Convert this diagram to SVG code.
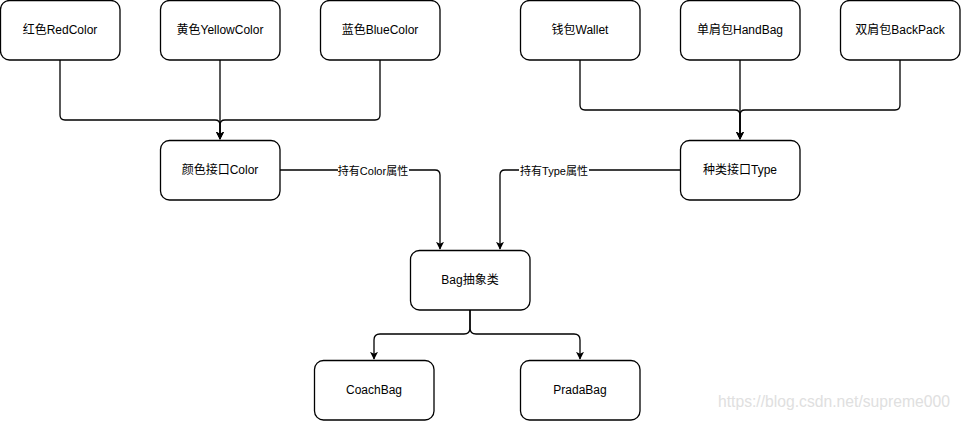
<svg xmlns="http://www.w3.org/2000/svg" width="961" height="421" viewBox="0 0 961 421">
<style>
.n rect{fill:#fff;stroke:#000;stroke-width:1.3}
.n text{font-family:"Liberation Sans","Noto Sans CJK SC",sans-serif;font-size:12px;fill:#000;text-anchor:middle;dominant-baseline:central}
.e path{fill:none;stroke:#000;stroke-width:1.3}
.lbl{font-family:"Liberation Sans","Noto Sans CJK SC",sans-serif;font-size:11px;fill:#000;text-anchor:middle;dominant-baseline:central}
.wm{font-family:"Liberation Sans",sans-serif;font-size:15.7px;fill:#e0e0e0}
</style>
<defs>
<marker id="a" viewBox="0 0 10 10" refX="9" refY="5" markerWidth="8" markerHeight="8" markerUnits="userSpaceOnUse" orient="auto">
<path d="M0,0 L10,5 L0,10 L2.5,5 Z" fill="#000"/>
</marker>
</defs>
<rect width="961" height="421" fill="#fff"/>
<g class="e" id="edges">
<path d="M60,60 V115 Q60,120 65,120 H215 Q220,120 220,125 V139" marker-end="url(#a)"/>
<path d="M220,60 V139" marker-end="url(#a)"/>
<path d="M380,60 V115 Q380,120 375,120 H225 Q220,120 220,125 V139" marker-end="url(#a)"/>
<path d="M580,60 V105 Q580,110 585,110 H735 Q740,110 740,115 V139" marker-end="url(#a)"/>
<path d="M740,60 V139" marker-end="url(#a)"/>
<path d="M900,60 V105 Q900,110 895,110 H745 Q740,110 740,115 V139" marker-end="url(#a)"/>
<path d="M280,170 H435 Q440,170 440,175 V249" marker-end="url(#a)"/>
<path d="M680,170 H505 Q500,170 500,175 V249" marker-end="url(#a)"/>
<path d="M470,310 V328 Q470,334 464,334 H380 Q374,334 374,340 V359" marker-end="url(#a)"/>
<path d="M470,310 V328 Q470,334 476,334 H574 Q580,334 580,340 V359" marker-end="url(#a)"/>
<rect x="338" y="163" width="71" height="14" fill="#fff"/>
<text class="lbl" x="373" y="171">持有Color属性</text>
<rect x="519" y="163" width="70" height="14" fill="#fff"/>
<text class="lbl" x="554" y="171">持有Type属性</text>
</g>
<g class="n" id="red"><rect x="0.5" y="0.5" width="119.5" height="59.5" rx="9"/><text x="60" y="30">红色RedColor</text></g>
<g class="n" id="yellow"><rect x="160.5" y="0.5" width="119.5" height="59.5" rx="9"/><text x="220" y="30">黄色YellowColor</text></g>
<g class="n" id="blue"><rect x="320.5" y="0.5" width="119.5" height="59.5" rx="9"/><text x="380" y="30">蓝色BlueColor</text></g>
<g class="n" id="color"><rect x="160.5" y="140.5" width="119.5" height="59.5" rx="9"/><text x="220" y="170">颜色接口Color</text></g>
<g class="n" id="wallet"><rect x="520.5" y="0.5" width="119.5" height="59.5" rx="9"/><text x="580" y="30">钱包Wallet</text></g>
<g class="n" id="handbag"><rect x="680.5" y="0.5" width="119.5" height="59.5" rx="9"/><text x="740" y="30">单肩包HandBag</text></g>
<g class="n" id="backpack"><rect x="840.5" y="0.5" width="119.5" height="59.5" rx="9"/><text x="900" y="30">双肩包BackPack</text></g>
<g class="n" id="type"><rect x="680.5" y="140.5" width="119.5" height="59.5" rx="9"/><text x="740" y="170">种类接口Type</text></g>
<g class="n" id="bag"><rect x="410.5" y="250.5" width="119.5" height="59.5" rx="9"/><text x="470" y="280">Bag抽象类</text></g>
<g class="n" id="coach"><rect x="314.5" y="360.5" width="119.5" height="59.5" rx="9"/><text x="374" y="390">CoachBag</text></g>
<g class="n" id="prada"><rect x="520.5" y="360.5" width="119.5" height="59.5" rx="9"/><text x="580" y="390">PradaBag</text></g>
<text class="wm" x="718" y="407">https://blog.csdn.net/supreme000</text>
</svg>
